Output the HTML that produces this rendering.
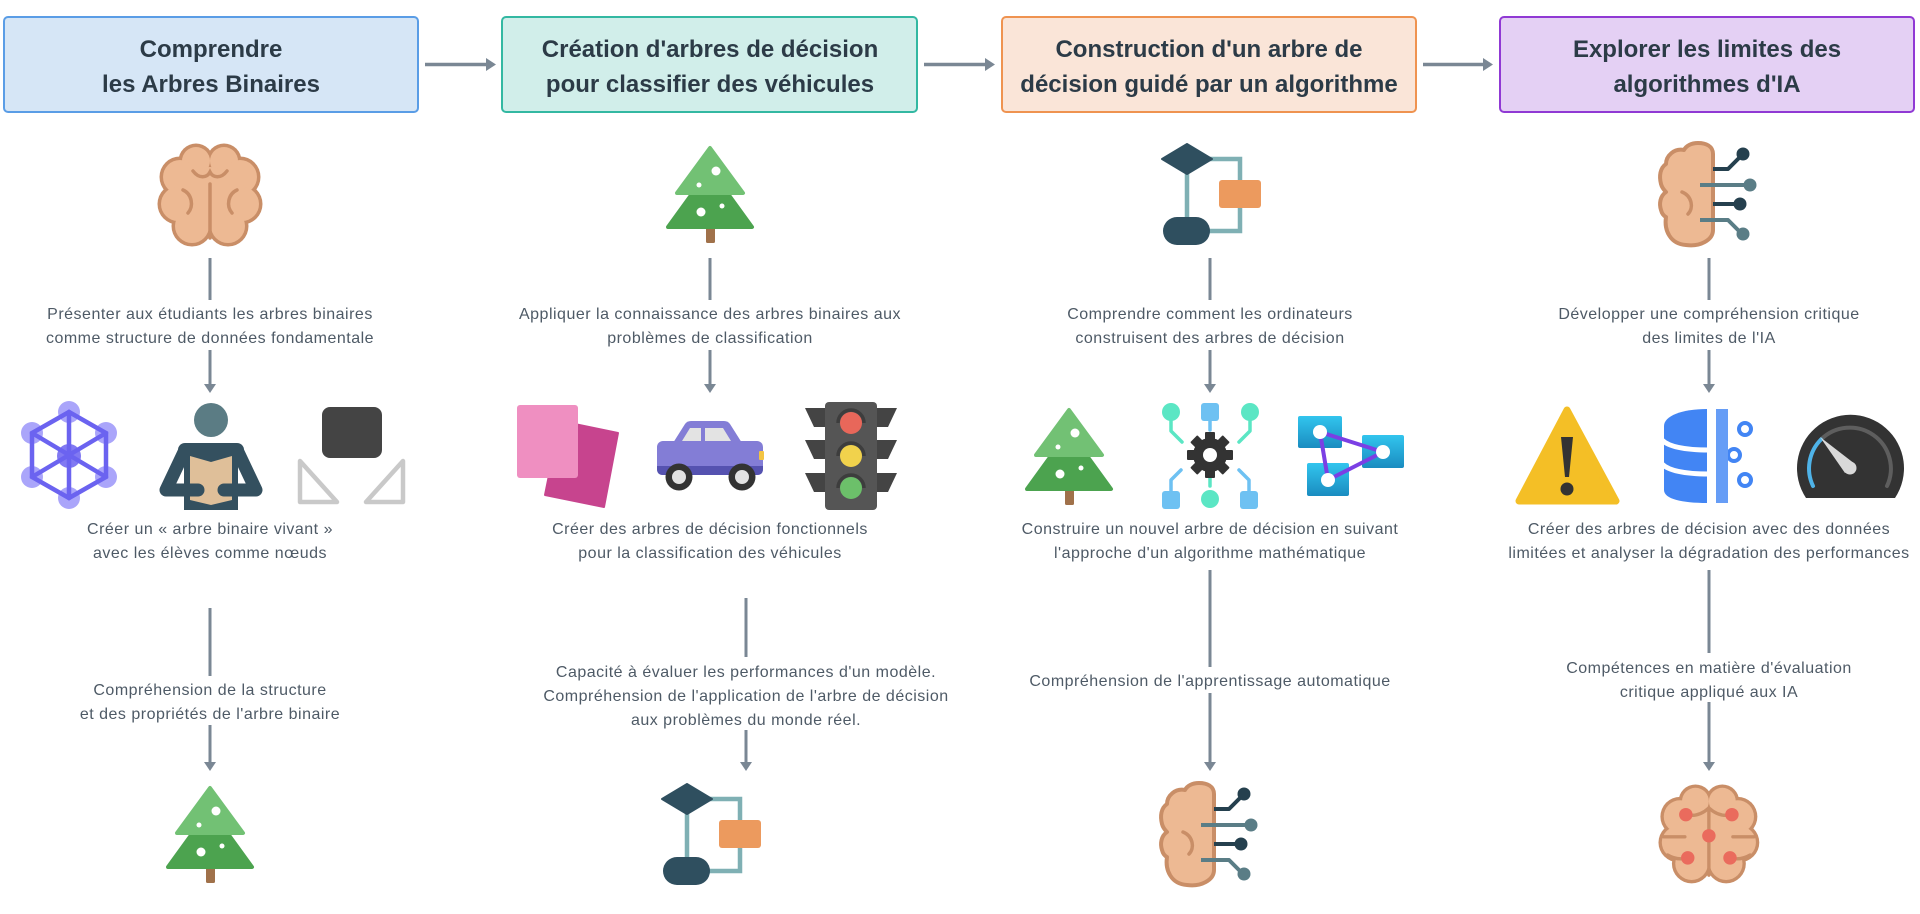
<!DOCTYPE html>
<html>
<head>
<meta charset="utf-8">
<style>
html,body{margin:0;padding:0;background:#fff;}
svg{display:block;}
.h{font-family:"Liberation Sans",Arial,sans-serif;font-weight:bold;font-size:24px;fill:#2c3b47;text-anchor:middle;}
.t{font-family:"Liberation Sans",Arial,sans-serif;font-size:16px;letter-spacing:0.5px;fill:#4e5a66;text-anchor:middle;}
</style>
</head>
<body>
<svg xmlns="http://www.w3.org/2000/svg" width="1920" height="914" viewBox="0 0 1920 914">
<defs>
  <g id="brainBase">
    <g fill="#c98e67">
      <circle cx="39" cy="19" r="17.5"/><circle cx="67" cy="19" r="17.5"/>
      <circle cx="23" cy="35" r="20.5"/><circle cx="83" cy="35" r="20.5"/>
      <circle cx="21" cy="62" r="20.5"/><circle cx="85" cy="62" r="20.5"/>
      <circle cx="35" cy="84" r="20.5"/><circle cx="71" cy="84" r="20.5"/>
      <circle cx="40" cy="52" r="25.5"/><circle cx="66" cy="52" r="25.5"/>
      <circle cx="53" cy="45" r="23.5"/><circle cx="53" cy="75" r="17.5"/>
    </g>
    <g fill="#edb993">
      <circle cx="39" cy="19" r="14"/><circle cx="67" cy="19" r="14"/>
      <circle cx="23" cy="35" r="17"/><circle cx="83" cy="35" r="17"/>
      <circle cx="21" cy="62" r="17"/><circle cx="85" cy="62" r="17"/>
      <circle cx="35" cy="84" r="17"/><circle cx="71" cy="84" r="17"/>
      <circle cx="40" cy="52" r="22"/><circle cx="66" cy="52" r="22"/>
      <circle cx="53" cy="45" r="20"/><circle cx="53" cy="75" r="14"/>
    </g>
  </g>
  <g id="brain">
    <use href="#brainBase"/>
    <g fill="none" stroke="#c98e67" stroke-width="3.5" stroke-linecap="round">
      <path d="M53 42 L53 96"/>
      <path d="M36 29 C42 37 50 36 53 30 C56 36 64 37 70 29"/>
      <path d="M26 48 C35 52 37 64 31 71"/>
      <path d="M80 48 C71 52 69 64 75 71"/>
    </g>
  </g>
  <g id="brainDots">
    <use href="#brainBase"/>
    <g fill="none" stroke="#c98e67" stroke-width="3.5" stroke-linecap="round">
      <path d="M53 30 L53 96"/>
      <path d="M29 33 Q42 36 53 26 Q64 36 77 33"/>
      <path d="M6 56 L28 56 M100 56 L78 56"/>
      <path d="M31 78 Q20 81 10 75 M75 78 Q86 81 96 75"/>
    </g>
    <g fill="#ea6b5d">
      <circle cx="29" cy="33" r="7"/><circle cx="77" cy="33" r="7"/>
      <circle cx="53" cy="55" r="7"/><circle cx="31" cy="78" r="7"/><circle cx="75" cy="78" r="7"/>
    </g>
  </g>
  <g id="hbrain">
    <path d="M55 12 C55 4 48 1 40 1 C33 1 28 4 26 8 C16 6 8 14 8 22 C2 26 1 34 3 42 C4 46 6 48 8 50 C2 54 1 62 3 68 C4 72 6 74 8 75 C6 88 12 102 28 103 C42 105 55 98 55 88 Z" fill="#edb993" stroke="#c98e67" stroke-width="4" stroke-linejoin="round"/>
    <path d="M24 50 C34 54 36 66 30 72" fill="none" stroke="#c98e67" stroke-width="3.5" stroke-linecap="round"/>
    <g fill="none" stroke-width="4" stroke-linejoin="round">
      <path d="M55 27 L70 27 L83 14" stroke="#25404e"/>
      <path d="M42 43 L91 43" stroke="#5a7d86"/>
      <path d="M55 62 L81 62" stroke="#25404e"/>
      <path d="M42 78 L70 78 L83 91" stroke="#5a7d86"/>
    </g>
    <circle cx="85" cy="12" r="6.5" fill="#25404e"/>
    <circle cx="92" cy="43" r="6.5" fill="#5a7d86"/>
    <circle cx="82" cy="62" r="6.5" fill="#25404e"/>
    <circle cx="85" cy="92" r="6.5" fill="#5a7d86"/>
  </g>
  <g id="tree">
    <rect x="40" y="80" width="9" height="18" rx="1.5" fill="#a0714a"/>
    <polygon points="44,24 86,82 2,82" fill="#4ca34f" stroke="#4ca34f" stroke-width="4" stroke-linejoin="round"/>
    <polygon points="44,3 77,48 11,48" fill="#72c174" stroke="#72c174" stroke-width="4" stroke-linejoin="round"/>
    <g fill="#fff">
      <circle cx="50" cy="26" r="4.5"/><circle cx="33" cy="40" r="2.5"/>
      <circle cx="35" cy="67" r="4.5"/><circle cx="56" cy="61" r="2.5"/>
    </g>
  </g>
  <g id="flow">
    <g fill="none" stroke="#7fb0b4" stroke-width="4.5">
      <path d="M26 16 L26 80"/>
      <path d="M40 16 L79 16 L79 88 L40 88"/>
    </g>
    <polygon points="1,16 26,1 51,16 26,31" fill="#2f4f5f" stroke="#2f4f5f" stroke-width="2" stroke-linejoin="round"/>
    <rect x="2" y="74" width="47" height="28" rx="14" fill="#2f4f5f"/>
    <rect x="58" y="37" width="42" height="28" rx="3" fill="#ec9a5e"/>
  </g>
  <linearGradient id="az" x1="0" y1="0" x2="0" y2="1">
    <stop offset="0" stop-color="#32c5ee"/><stop offset="1" stop-color="#1a8cc0"/>
  </linearGradient>
</defs>

<!-- Header boxes -->
<rect x="4" y="17" width="414" height="95" rx="4" fill="#d6e6f6" stroke="#5a9de6" stroke-width="2"/>
<rect x="502" y="17" width="415" height="95" rx="4" fill="#d1eeea" stroke="#33b8a2" stroke-width="2"/>
<rect x="1002" y="17" width="414" height="95" rx="4" fill="#fae5d8" stroke="#ef9350" stroke-width="2"/>
<rect x="1500" y="17" width="414" height="95" rx="4" fill="#e4d0f4" stroke="#9039d4" stroke-width="2"/>

<text class="h" x="211" y="57">Comprendre</text>
<text class="h" x="211" y="92">les Arbres Binaires</text>
<text class="h" x="710" y="57">Création d'arbres de décision</text>
<text class="h" x="710" y="92">pour classifier des véhicules</text>
<text class="h" x="1209" y="57">Construction d'un arbre de</text>
<text class="h" x="1209" y="92">décision guidé par un algorithme</text>
<text class="h" x="1707" y="57">Explorer les limites des</text>
<text class="h" x="1707" y="92">algorithmes d'IA</text>

<!-- Header arrows -->
<g stroke="#7a8794" stroke-width="3.5">
  <line x1="425" y1="64.5" x2="488" y2="64.5"/>
  <line x1="924" y1="64.5" x2="987" y2="64.5"/>
  <line x1="1423" y1="64.5" x2="1485" y2="64.5"/>
</g>
<g fill="#7a8794">
  <polygon points="486,58 496,64.5 486,71"/>
  <polygon points="985,58 995,64.5 985,71"/>
  <polygon points="1483,58 1493,64.5 1483,71"/>
</g>

<!-- Vertical connectors -->
<g stroke="#7a8794" stroke-width="3">
  <line x1="210" y1="258" x2="210" y2="300"/><line x1="210" y1="350" x2="210" y2="386"/>
  <line x1="710" y1="258" x2="710" y2="300"/><line x1="710" y1="350" x2="710" y2="386"/>
  <line x1="1210" y1="258" x2="1210" y2="300"/><line x1="1210" y1="350" x2="1210" y2="386"/>
  <line x1="1709" y1="258" x2="1709" y2="300"/><line x1="1709" y1="350" x2="1709" y2="386"/>
  <line x1="210" y1="608" x2="210" y2="676"/><line x1="210" y1="725" x2="210" y2="764"/>
  <line x1="746" y1="598" x2="746" y2="657"/><line x1="746" y1="730" x2="746" y2="764"/>
  <line x1="1210" y1="570" x2="1210" y2="667"/><line x1="1210" y1="693" x2="1210" y2="764"/>
  <line x1="1709" y1="570" x2="1709" y2="653"/><line x1="1709" y1="702" x2="1709" y2="764"/>
</g>
<g fill="#7a8794">
  <polygon points="204,384 216,384 210,393"/>
  <polygon points="704,384 716,384 710,393"/>
  <polygon points="1204,384 1216,384 1210,393"/>
  <polygon points="1703,384 1715,384 1709,393"/>
  <polygon points="204,762 216,762 210,771"/>
  <polygon points="740,762 752,762 746,771"/>
  <polygon points="1204,762 1216,762 1210,771"/>
  <polygon points="1703,762 1715,762 1709,771"/>
</g>

<!-- Labels -->
<text class="t" x="210" y="319">Présenter aux étudiants les arbres binaires</text>
<text class="t" x="210" y="343">comme structure de données fondamentale</text>
<text class="t" x="710" y="319">Appliquer la connaissance des arbres binaires aux</text>
<text class="t" x="710" y="343">problèmes de classification</text>
<text class="t" x="1210" y="319">Comprendre comment les ordinateurs</text>
<text class="t" x="1210" y="343">construisent des arbres de décision</text>
<text class="t" x="1709" y="319">Développer une compréhension critique</text>
<text class="t" x="1709" y="343">des limites de l'IA</text>

<text class="t" x="210" y="534">Créer un « arbre binaire vivant »</text>
<text class="t" x="210" y="558">avec les élèves comme nœuds</text>
<text class="t" x="710" y="534">Créer des arbres de décision fonctionnels</text>
<text class="t" x="710" y="558">pour la classification des véhicules</text>
<text class="t" x="1210" y="534">Construire un nouvel arbre de décision en suivant</text>
<text class="t" x="1210" y="558">l'approche d'un algorithme mathématique</text>
<text class="t" x="1709" y="534">Créer des arbres de décision avec des données</text>
<text class="t" x="1709" y="558">limitées et analyser la dégradation des performances</text>

<text class="t" x="210" y="695">Compréhension de la structure</text>
<text class="t" x="210" y="719">et des propriétés de l'arbre binaire</text>
<text class="t" x="746" y="677">Capacité à évaluer les performances d'un modèle.</text>
<text class="t" x="746" y="701">Compréhension de l'application de l'arbre de décision</text>
<text class="t" x="746" y="725">aux problèmes du monde réel.</text>
<text class="t" x="1210" y="686">Compréhension de l'apprentissage automatique</text>
<text class="t" x="1709" y="673">Compétences en matière d'évaluation</text>
<text class="t" x="1709" y="697">critique appliqué aux IA</text>

<!-- Top icons -->
<use href="#brain" transform="translate(157,142)"/>
<use href="#tree" transform="translate(666,145)"/>
<use href="#flow" transform="translate(1161,143)"/>
<use href="#hbrain" transform="translate(1658,142)"/>

<!-- Bottom icons -->
<use href="#tree" transform="translate(166,785)"/>
<use href="#flow" transform="translate(661,783)"/>
<use href="#hbrain" transform="translate(1159,782)"/>
<use href="#brainDots" transform="translate(1658,783) scale(0.96)"/>

<!-- Col 1 icon row -->
<g>
  <g fill="#aaa5fa">
    <circle cx="69" cy="412" r="11"/><circle cx="32" cy="433" r="11"/><circle cx="106" cy="433" r="11"/>
    <circle cx="32" cy="477" r="11"/><circle cx="106" cy="477" r="11"/><circle cx="69" cy="498" r="11"/>
  </g>
  <circle cx="69" cy="456" r="12" fill="#8179f2"/>
  <g stroke="#6b63f0" stroke-width="4.5" stroke-linecap="round" fill="none">
    <path d="M69 412 L106 433 L106 477 L69 498 L32 477 L32 433 Z"/>
    <path d="M69 412 L69 498 M32 433 L106 477 M106 433 L32 477"/>
  </g>
</g>
<g>
  <circle cx="211" cy="420" r="17" fill="#5b7c84"/>
  <rect x="178" y="443" width="66" height="16" rx="7" fill="#34505f"/>
  <rect x="184" y="450" width="54" height="60" fill="#34505f"/>
  <polygon points="190,456 211,462 232,456 232,500 211,505 190,500" fill="#dfbf99"/>
  <g fill="none" stroke="#34505f" stroke-width="13" stroke-linecap="round" stroke-linejoin="round">
    <path d="M184 452 L166 490 L198 490"/>
    <path d="M238 452 L256 490 L224 490"/>
  </g>
</g>
<g>
  <rect x="322" y="407" width="60" height="51" rx="8" fill="#444"/>
  <g fill="none" stroke="#c9c9c9" stroke-width="4.5" stroke-linejoin="round">
    <polygon points="300,461 300,502 337,502"/>
    <polygon points="403,461 403,502 366,502"/>
  </g>
</g>

<!-- Col 2 icon row -->
<g>
  <polygon points="560,421 618,433 604,507 545,495" fill="#c7448e" stroke="#c7448e" stroke-width="2" stroke-linejoin="round"/>
  <rect x="517" y="405" width="61" height="73" rx="3" fill="#ef8fc1"/>
</g>
<g>
  <path d="M673 443 L685 424 Q687 421 691 421 L724 421 Q728 421 730 424 L742 443 Z" fill="#837dd6"/>
  <polygon points="682,441 690,428 701,428 701,441" fill="#e3e3e3"/>
  <polygon points="705,441 705,428 723,428 731,441" fill="#e3e3e3"/>
  <rect x="657" y="441" width="106" height="34" rx="6" fill="#837dd6"/>
  <path d="M657 466 L763 466 L763 469 Q763 475 757 475 L663 475 Q657 475 657 469 Z" fill="#5552b0"/>
  <rect x="759" y="451" width="5" height="9" rx="1" fill="#f3c443"/>
  <circle cx="679" cy="477" r="13.5" fill="#333"/><circle cx="679" cy="477" r="7" fill="#e2e2e2"/>
  <circle cx="742" cy="477" r="13.5" fill="#333"/><circle cx="742" cy="477" r="7" fill="#e2e2e2"/>
</g>
<g>
  <g fill="#444">
    <polygon points="805,408 825,408 825,427 814,427"/>
    <polygon points="805,440 825,440 825,459 814,459"/>
    <polygon points="805,473 825,473 825,492 814,492"/>
    <polygon points="877,408 897,408 888,427 877,427"/>
    <polygon points="877,440 897,440 888,459 877,459"/>
    <polygon points="877,473 897,473 888,492 877,492"/>
  </g>
  <rect x="825" y="402" width="52" height="108" rx="4" fill="#555"/>
  <g fill="none" stroke="#3d3d3d" stroke-width="3.5">
    <path d="M838 423 A13 13 0 0 1 864 423"/>
    <path d="M838 456 A13 13 0 0 1 864 456"/>
    <path d="M838 488 A13 13 0 0 1 864 488"/>
  </g>
  <circle cx="851" cy="423" r="11" fill="#e8675a"/>
  <circle cx="851" cy="456" r="11" fill="#f1d24c"/>
  <circle cx="851" cy="488" r="11" fill="#6cc06a"/>
</g>

<!-- Col 3 icon row -->
<use href="#tree" transform="translate(1025,407)"/>
<g>
  <g fill="none" stroke-width="3.5" stroke-linejoin="round" stroke-linecap="round">
    <path d="M1171 421 L1171 431 L1182 442" stroke="#5be6c4"/>
    <path d="M1250 421 L1250 431 L1239 442" stroke="#5be6c4"/>
    <path d="M1210 486 L1210 476" stroke="#5be6c4"/>
    <path d="M1171 491 L1171 480 L1181 470" stroke="#6ec1f2"/>
    <path d="M1249 491 L1249 480 L1239 470" stroke="#6ec1f2"/>
    <path d="M1210 421 L1210 430" stroke="#6ec1f2"/>
  </g>
  <circle cx="1171" cy="412" r="9" fill="#5be6c4"/>
  <circle cx="1250" cy="412" r="9" fill="#5be6c4"/>
  <circle cx="1210" cy="499" r="9" fill="#5be6c4"/>
  <rect x="1201" y="403" width="18" height="18" rx="3" fill="#6ec1f2"/>
  <rect x="1162" y="491" width="18" height="18" rx="3" fill="#6ec1f2"/>
  <rect x="1240" y="491" width="18" height="18" rx="3" fill="#6ec1f2"/>
  <g fill="#333" transform="translate(1210,455)">
    <circle r="17"/>
    <rect x="-5" y="-23" width="10" height="10" rx="1"/>
    <rect x="-5" y="-23" width="10" height="10" rx="1" transform="rotate(45)"/>
    <rect x="-5" y="-23" width="10" height="10" rx="1" transform="rotate(90)"/>
    <rect x="-5" y="-23" width="10" height="10" rx="1" transform="rotate(135)"/>
    <rect x="-5" y="-23" width="10" height="10" rx="1" transform="rotate(180)"/>
    <rect x="-5" y="-23" width="10" height="10" rx="1" transform="rotate(225)"/>
    <rect x="-5" y="-23" width="10" height="10" rx="1" transform="rotate(270)"/>
    <rect x="-5" y="-23" width="10" height="10" rx="1" transform="rotate(315)"/>
    <circle r="7" fill="#fff"/>
  </g>
</g>
<g>
  <rect x="1298" y="416" width="44" height="32" rx="2" fill="url(#az)"/>
  <rect x="1362" y="435" width="42" height="33" rx="2" fill="url(#az)"/>
  <rect x="1307" y="463" width="42" height="33" rx="2" fill="url(#az)"/>
  <polygon points="1320,432 1383,452 1328,480" fill="none" stroke="#7b3fe4" stroke-width="4" stroke-linejoin="round"/>
  <circle cx="1320" cy="432" r="7" fill="#fff"/>
  <circle cx="1383" cy="452" r="7" fill="#fff"/>
  <circle cx="1328" cy="480" r="7" fill="#fff"/>
</g>

<!-- Col 4 icon row -->
<g>
  <polygon points="1567,410 1616,501 1519,501" fill="#f4bf26" stroke="#f4bf26" stroke-width="7" stroke-linejoin="round"/>
  <path d="M1561 437 L1573 437 L1569 477 L1565 477 Z" fill="#333"/>
  <circle cx="1567" cy="489" r="6.5" fill="#333"/>
</g>
<g>
  <circle cx="1734" cy="455" r="6" fill="none" stroke="#4285f4" stroke-width="4"/>
  <path d="M1707 409 C1682 409 1664 416 1664 426 L1664 490 C1664 499 1682 503 1707 503 Z" fill="#4285f4"/>
  <g fill="none" stroke="#fff" stroke-width="5">
    <path d="M1662 440 C1670 448 1690 450 1709 450"/>
    <path d="M1662 464 C1670 472 1690 474 1709 474"/>
  </g>
  <rect x="1716" y="409" width="12" height="94" fill="#669df6"/>
  <circle cx="1745" cy="429" r="6" fill="none" stroke="#4285f4" stroke-width="4"/>
  <circle cx="1745" cy="480" r="6" fill="none" stroke="#4285f4" stroke-width="4"/>
</g>
<g>
  <path d="M1806 498 A53.5 53.5 0 1 1 1895 498 Z" fill="#333"/>
  <path d="M1821 439.5 A41 41 0 0 1 1887 486" fill="none" stroke="#5e5e5e" stroke-width="4" stroke-linecap="round"/>
  <path d="M1813 486 A41 41 0 0 1 1821 439.5" fill="none" stroke="#4fb3e8" stroke-width="4" stroke-linecap="round"/>
  <polygon points="1820,437 1845,473 1855,464" fill="#d9d9d9"/>
  <circle cx="1850" cy="468" r="6.5" fill="#d9d9d9"/>
</g>
</svg>
</body>
</html>
